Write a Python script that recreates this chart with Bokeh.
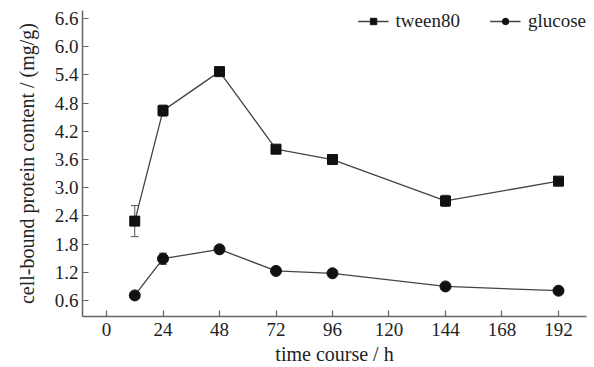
from bokeh.plotting import figure
from bokeh.models import ColumnDataSource, Whisker, Legend, LegendItem, FixedTicker, Range1d
from bokeh.embed import file_html
from bokeh.resources import INLINE

hours = [12, 24, 48, 72, 96, 144, 192]
tween80 = [2.29, 4.64, 5.47, 3.82, 3.60, 2.72, 3.14]
tween80_err = [0.33, 0.12, 0.09, 0.08, 0.05, 0.12, 0.09]
glucose = [0.71, 1.49, 1.69, 1.23, 1.18, 0.90, 0.81]
glucose_err = [0.05, 0.12, 0.05, 0.04, 0.05, 0.04, 0.03]
x_ticks = [0, 24, 48, 72, 96, 120, 144, 168, 192]
y_ticks = [0.6, 1.2, 1.8, 2.4, 3.0, 3.6, 4.2, 4.8, 5.4, 6.0, 6.6]

FONT = "Liberation Serif"
TXT = "#222222"
AX = "#666666"

p = figure(width=592, height=367, output_backend="svg", toolbar_location=None,
           x_range=Range1d(-10.2, 203.9), y_range=Range1d(0.261, 6.77),
           min_border_left=82, min_border_right=6, min_border_top=10, min_border_bottom=50)
p.outline_line_color = None
p.xgrid.visible = False
p.ygrid.visible = False

for ax in (p.xaxis[0], p.yaxis[0]):
    ax.major_tick_in = 6
    ax.major_tick_out = 0
    ax.minor_tick_line_color = None
    ax.axis_line_color = AX
    ax.axis_line_width = 1.5
    ax.major_tick_line_color = AX
    ax.major_tick_line_width = 1.2
    ax.major_label_text_font = FONT
    ax.major_label_text_font_size = "19px"
    ax.major_label_text_color = TXT
    ax.axis_label_text_font = FONT
    ax.axis_label_text_font_size = "20px"
    ax.axis_label_text_font_style = "normal"
    ax.axis_label_text_color = TXT

p.xaxis.ticker = FixedTicker(ticks=x_ticks)
p.yaxis.ticker = FixedTicker(ticks=y_ticks)
p.yaxis.major_label_overrides = {t: f"{t:.1f}" for t in y_ticks}
p.xaxis.axis_label = "time course / h"
p.yaxis.axis_label = "cell-bound protein content / (mg/g)"
p.xaxis.major_label_standoff = 6
p.yaxis.major_label_standoff = 4
p.xaxis.axis_label_standoff = 4
p.yaxis.axis_label_standoff = 14

ts = ColumnDataSource(dict(x=hours, y=tween80,
                           lo=[v - e for v, e in zip(tween80, tween80_err)],
                           hi=[v + e for v, e in zip(tween80, tween80_err)]))
gs = ColumnDataSource(dict(x=hours, y=glucose,
                           lo=[v - e for v, e in zip(glucose, glucose_err)],
                           hi=[v + e for v, e in zip(glucose, glucose_err)]))

for src in (ts, gs):
    w = Whisker(source=src, base="x", upper="hi", lower="lo", line_color="#555555", line_width=1)
    w.upper_head.size = 8
    w.lower_head.size = 8
    w.upper_head.line_color = "#555555"
    w.lower_head.line_color = "#555555"
    p.add_layout(w)

tl = p.line("x", "y", source=ts, line_color="#444444", line_width=1.3)
tm = p.scatter("x", "y", source=ts, marker="square", size=10, color="#111111")
gl = p.line("x", "y", source=gs, line_color="#444444", line_width=1.3)
gm = p.scatter("x", "y", source=gs, marker="circle", size=11, color="#111111")

legend = Legend(items=[LegendItem(label="tween80", renderers=[tl, tm]),
                       LegendItem(label="glucose", renderers=[gl, gm])],
                orientation="horizontal", location="top_right",
                background_fill_alpha=0, border_line_color=None,
                label_text_font=FONT, label_text_font_size="19px",
                label_text_color=TXT, glyph_width=31, glyph_height=16, spacing=30,
                margin=0, padding=10, label_standoff=7)
p.add_layout(legend)

open("out.html", "w").write(file_html(p, INLINE))
